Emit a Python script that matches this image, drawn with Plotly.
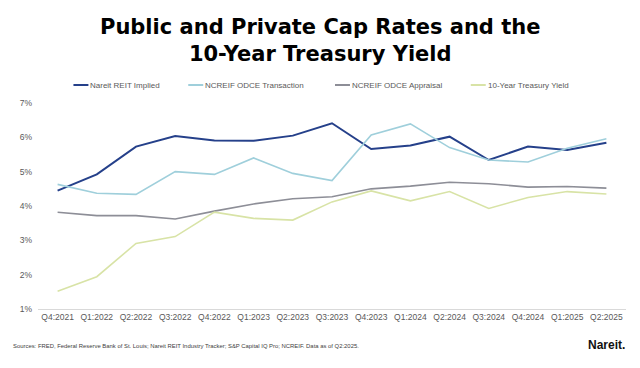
import plotly.graph_objects as go

quarters = ["Q4:2021", "Q1:2022", "Q2:2022", "Q3:2022", "Q4:2022", "Q1:2023", "Q2:2023",
            "Q3:2023", "Q4:2023", "Q1:2024", "Q2:2024", "Q3:2024", "Q4:2024", "Q1:2025", "Q2:2025"]

nareit_implied = [4.45, 4.92, 5.73, 6.04, 5.91, 5.90, 6.05, 6.41, 5.66, 5.76, 6.02, 5.34, 5.73, 5.63, 5.84]
odce_transaction = [4.63, 4.37, 4.34, 5.00, 4.92, 5.40, 4.95, 4.74, 6.07, 6.39, 5.70, 5.34, 5.28, 5.68, 5.96]
odce_appraisal = [3.82, 3.72, 3.72, 3.62, 3.85, 4.06, 4.21, 4.27, 4.50, 4.58, 4.69, 4.65, 4.55, 4.57, 4.52]
treasury_10y = [1.52, 1.94, 2.91, 3.11, 3.82, 3.64, 3.59, 4.12, 4.44, 4.15, 4.42, 3.93, 4.25, 4.42, 4.35]

series_names = ["Nareit REIT Implied", "NCREIF ODCE Transaction", "NCREIF ODCE Appraisal", "10-Year Treasury Yield"]
series_values = [nareit_implied, odce_transaction, odce_appraisal, treasury_10y]
series_colors = ["#25408a", "#9fcfdb", "#8d8e97", "#d8e3a6"]
series_widths = [2, 1.6, 1.6, 1.6]

y_ticks = [1, 2, 3, 4, 5, 6, 7]
y_tick_labels = ["1%", "2%", "3%", "4%", "5%", "6%", "7%"]

W, H = 640, 368
ML, MR, MT, MB = 37.5, 13.5, 103, 59

fig = go.Figure()
for name, vals, col, w in zip(series_names, series_values, series_colors, series_widths):
    fig.add_trace(go.Scatter(x=quarters, y=vals, mode="lines", name=name,
                             line=dict(color=col, width=w), showlegend=False))

FONT = "Liberation Sans, Arial, sans-serif"
TITLE_FONT = "DejaVu Sans, Liberation Sans, Arial, sans-serif"

# manual legend (line + label), in pixel-derived paper coordinates
legend_x = [73, 188, 335, 471]
legend_y = 85
pw = W - ML - MR
ph = H - MT - MB
def px(x):
    return (x - ML) / pw
def py(y):
    return (H - MB - y) / ph

shapes = []
annotations = []
for name, col, lx in zip(series_names, series_colors, legend_x):
    shapes.append(dict(type="line", xref="paper", yref="paper",
                       x0=px(lx), x1=px(lx + 15), y0=py(legend_y), y1=py(legend_y),
                       line=dict(color=col, width=2)))
    annotations.append(dict(text=name, xref="paper", yref="paper", x=px(lx + 15), y=py(legend_y),
                            xanchor="left", yanchor="middle", showarrow=False,
                            font=dict(family=FONT, size=8, color="#595959")))

annotations.append(dict(text="<b>Public and Private Cap Rates and the<br>10-Year Treasury Yield</b>",
                        xref="paper", yref="paper", x=px(320), y=py(41), xanchor="center", yanchor="middle",
                        showarrow=False, font=dict(family=TITLE_FONT, size=21, color="#000000")))
annotations.append(dict(text="Sources: FRED, Federal Reserve Bank of St. Louis; Nareit REIT Industry Tracker; S&P Capital IQ Pro; NCREIF. Data as of Q2:2025.",
                        xref="paper", yref="paper", x=px(10), y=py(346), xanchor="left", yanchor="middle",
                        showarrow=False, font=dict(family=FONT, size=5.9, color="#404040")))
annotations.append(dict(text="<b>Nareit.</b>", xref="paper", yref="paper", x=px(628), y=py(345),
                        xanchor="right", yanchor="middle", showarrow=False,
                        font=dict(family=FONT, size=12, color="#111111")))

fig.update_layout(
    width=W, height=H,
    margin=dict(l=ML, r=MR, t=MT, b=MB),
    paper_bgcolor="white", plot_bgcolor="white",
    shapes=shapes, annotations=annotations,
    xaxis=dict(type="category", range=[-0.5, 14.5], showgrid=False, showline=True,
               linecolor="#d9d9d9", linewidth=1, ticks="", zeroline=False, automargin=False,
               tickfont=dict(family=FONT, size=8.5, color="#595959")),
    yaxis=dict(range=[1, 7], tickvals=y_ticks, ticktext=y_tick_labels, showgrid=False,
               showline=False, zeroline=False, ticks="", automargin=False, ticklabelstandoff=5,
               tickfont=dict(family=FONT, size=8.5, color="#595959")),
)

fig.write_html("out.html", config={"displayModeBar": False},
               post_script="document.body.style.margin='0';")
